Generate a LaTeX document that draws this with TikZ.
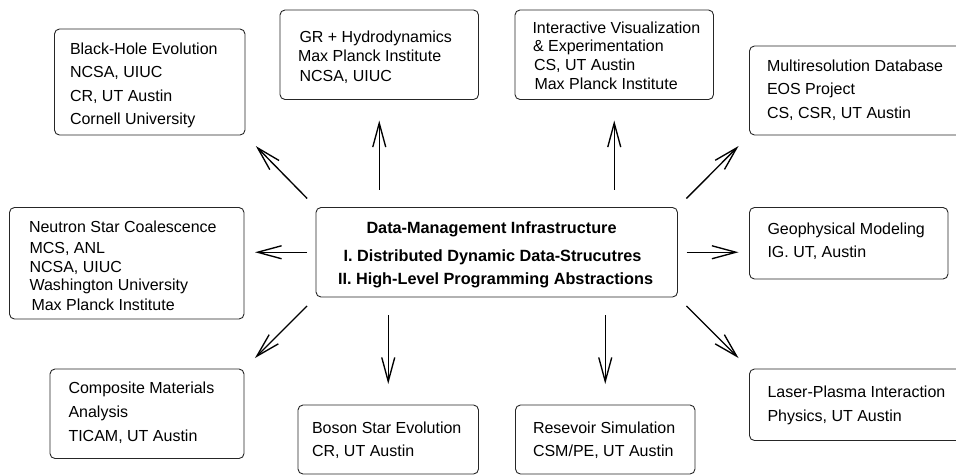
\documentclass[tikz,border=0pt]{standalone}
\usepackage{fontspec}
\setmainfont{Liberation Sans}
\usetikzlibrary{arrows.meta}
\newcommand\tl[3]{\makebox[0pt][l]{\hspace*{\dimexpr #1pt-\cx pt\relax}\raisebox{\dimexpr \cy pt-#2pt\relax}[0pt][0pt]{#3}}\ignorespaces}
\newcommand\boxat[6]{%
  \pgfmathsetmacro\cx{(#2+#4)/2}\pgfmathsetmacro\cy{(#3+#5)/2}%
  \pgfmathsetmacro\bw{#4-#2}\pgfmathsetmacro\bh{#5-#3}%
  \node[bx,minimum width=\bw pt,minimum height=\bh pt] (#1) at (\cx,\cy) {#6};}
\tikzset{
  bx/.style={draw=black!85,line width=0.9pt,rounded corners=5pt,inner sep=0pt,outer sep=0pt,font=\fontsize{16}{18}\selectfont},
  arr/.style={draw=black,line width=1.35pt,-{Straight Barb[length=24pt,width=13pt,line width=1.35pt]}},
  diag/.style={arr,shorten <=12.7pt,shorten >=15.5pt},
  vert/.style={arr,shorten <=18pt,shorten >=21pt},
  horz/.style={arr,shorten <=9pt,shorten >=11pt}
}
\begin{document}
\begin{tikzpicture}[x=1pt,y=-1pt]
\useasboundingbox (0,0) rectangle (956,475);
\boxat{bh}{54.5}{29}{245}{135}{\tl{70}{54.7}{Black-Hole Evolution}\tl{70}{77.5}{NCSA, UIUC}\tl{70}{101}{CR, UT Austin}\tl{70}{124}{Cornell University}}
\boxat{gr}{280}{10}{478.5}{99.5}{\tl{299.5}{42}{GR + Hydrodynamics}\tl{298}{61.5}{Max Planck Institute}\tl{299.5}{81}{NCSA, UIUC}}
\boxat{iv}{515}{10}{713.5}{99.5}{\tl{532.5}{33}{Interactive Visualization}\tl{533}{51.5}{\& Experimentation}\tl{534}{70}{CS, UT Austin}\tl{534.5}{89}{Max Planck Institute}}
\boxat{mr}{749.5}{46}{962}{135}{\tl{767}{71}{Multiresolution Database}\tl{767}{94.5}{EOS Project}\tl{767}{118}{CS, CSR, UT Austin}}
\boxat{ns}{9.5}{207.5}{244}{319}{\tl{29}{232}{Neutron Star Coalescence}\tl{29.5}{253.5}{MCS, ANL}\tl{29.5}{272.7}{NCSA, UIUC}\tl{29.5}{290.5}{Washington University}\tl{31.5}{310}{Max Planck Institute}}
\boxat{dm}{316}{207.5}{677.5}{297}{\fontsize{16.25}{18}\selectfont\bfseries\tl{366.5}{233}{Data-Management Infrastructure}\tl{343.5}{261}{I. Distributed Dynamic Data-Strucutres}\tl{338}{284}{II. High-Level Programming Abstractions}}
\boxat{gm}{749.5}{207.5}{948}{279}{\tl{767.5}{234.5}{Geophysical Modeling}\tl{767.5}{257.5}{IG. UT, Austin}}
\boxat{cm}{50}{369}{244}{458.5}{\tl{68.5}{393.7}{Composite Materials}\tl{68.5}{417}{Analysis}\tl{68.5}{441}{TICAM, UT Austin}}
\boxat{bs}{298}{405}{478.5}{474}{\tl{312}{433}{Boson Star Evolution}\tl{312}{456.7}{CR, UT Austin}}
\boxat{rs}{515.5}{405}{695}{474}{\tl{533}{433}{Resevoir Simulation}\tl{533}{456.7}{CSM/PE, UT Austin}}
\boxat{lp}{749.5}{369}{962}{440.5}{\tl{767.5}{397.7}{Laser-Plasma Interaction}\tl{767.5}{421}{Physics, UT Austin}}
\draw[diag] (dm.north west) -- (bh.south east);
\draw[vert] (dm.north -| gr.south) -- (gr.south);
\draw[vert] (dm.north -| iv.south) -- (iv.south);
\draw[diag] (dm.north east) -- (mr.south west);
\draw[horz] (dm.west) -- (ns.east |- dm.west);
\draw[horz] (dm.east) -- (gm.west |- dm.east);
\draw[diag] (dm.south west) -- (cm.north east);
\draw[vert] (dm.south -| bs.north) -- (bs.north);
\draw[vert] (dm.south -| rs.north) -- (rs.north);
\draw[diag] (dm.south east) -- (lp.north west);
\end{tikzpicture}
\end{document}
